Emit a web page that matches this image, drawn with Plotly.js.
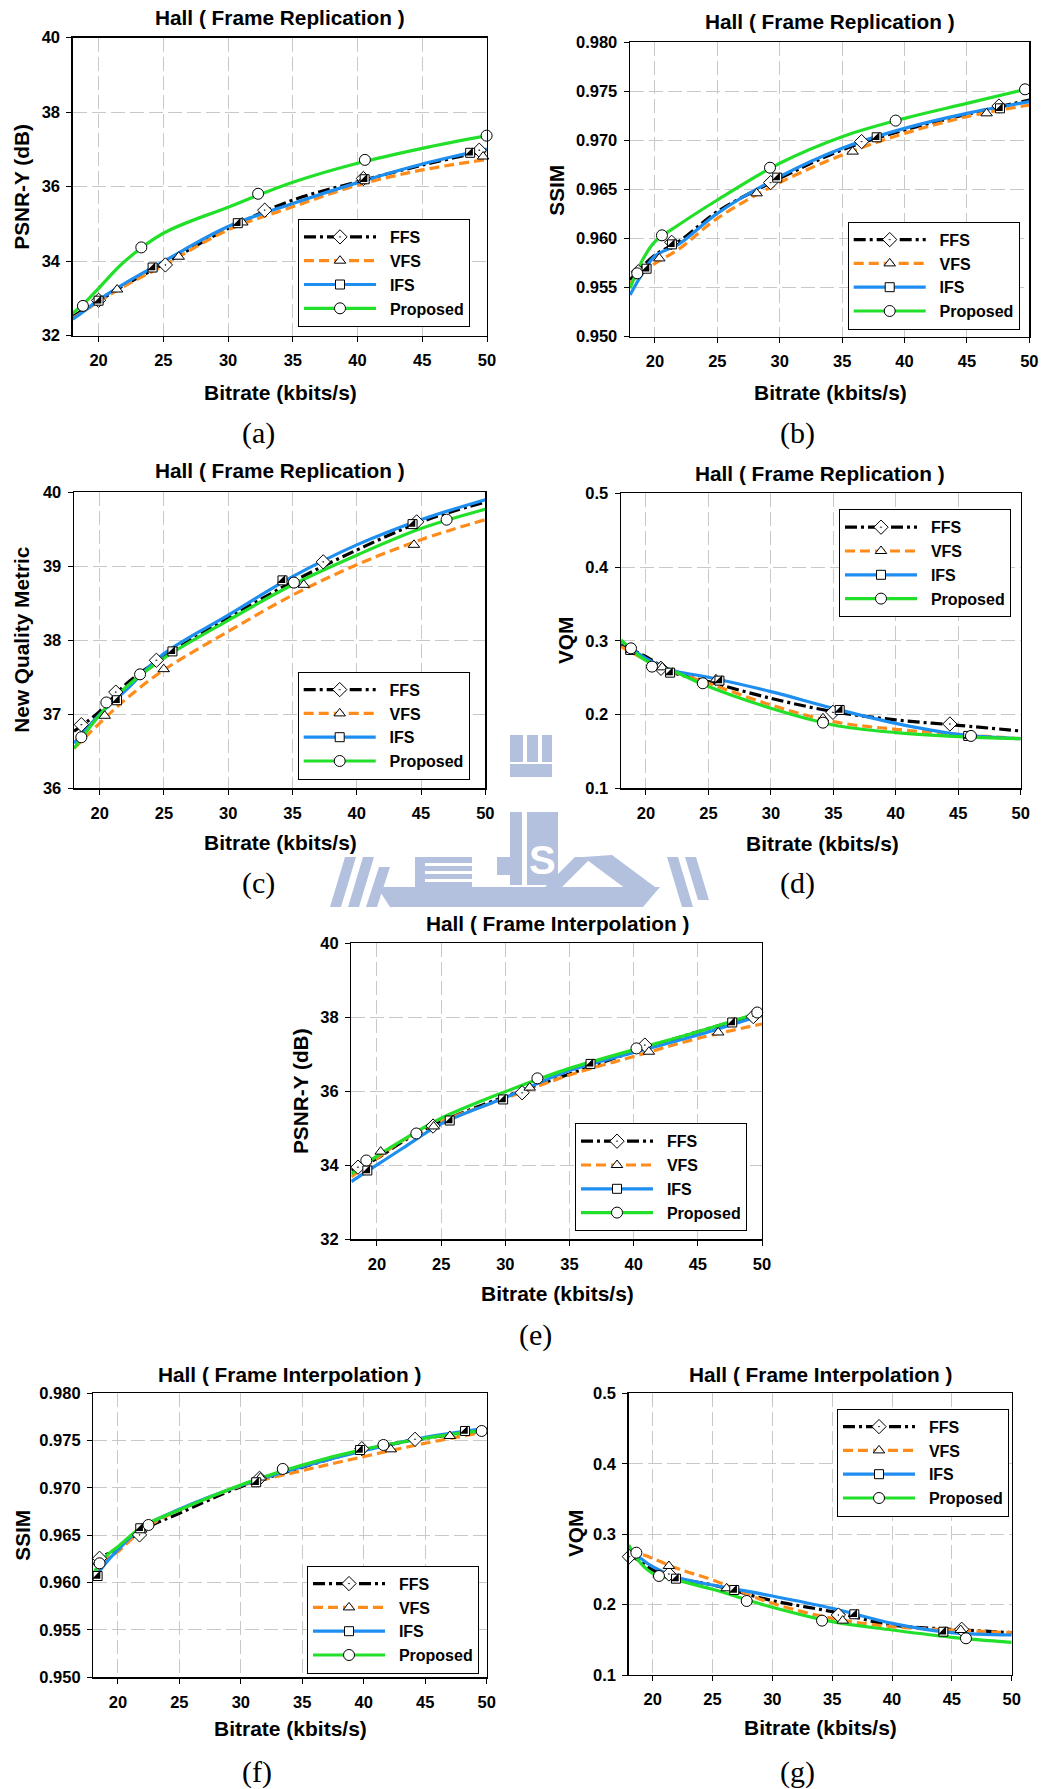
<!DOCTYPE html>
<html><head><meta charset="utf-8">
<script src="https://cdn.plot.ly/plotly-3.0.1.min.js"></script>
<style>body{margin:0;background:#fff}#chart{width:1055px;height:1789px}</style>
</head><body><div id="chart"></div>
<script>
// ---------------- DATA ----------------
const seriesNames = ['FFS', 'VFS', 'IFS', 'Proposed'];
const xTicks = [20, 25, 30, 35, 40, 45, 50];

// (a) PSNR-Y, Frame Replication
const aCurveX = [18, 19, 20, 22, 25, 30, 35, 40, 45, 50];
const aFfsCurve = [32.51, 32.73, 32.93, 33.36, 33.92, 34.88, 35.64, 36.13, 36.58, 36.97];
const aVfsCurve = [32.47, 32.69, 32.91, 33.33, 33.88, 34.84, 35.46, 36.04, 36.45, 36.73];
const aIfsCurve = [32.44, 32.69, 32.96, 33.40, 33.99, 34.93, 35.55, 36.11, 36.61, 37.01];
const aPropCurve = [32.60, 32.91, 33.27, 33.99, 34.75, 35.45, 36.12, 36.63, 37.03, 37.37];
const aFfsX = [20.0, 25.16, 32.83, 40.45, 49.4];   const aFfsY = [32.95, 33.90, 35.37, 36.22, 36.98];
const aVfsX = [21.43, 26.19, 31.1, 40.45, 49.7];   const aVfsY = [33.24, 34.12, 35.04, 36.18, 36.81];
const aIfsX = [20.0, 24.17, 30.75, 40.55, 48.7];   const aIfsY = [32.94, 33.83, 35.02, 36.20, 36.91];
const aPropX = [18.79, 23.3, 32.32, 40.57, 49.97]; const aPropY = [32.80, 34.37, 35.81, 36.72, 37.37];

// (b) SSIM, Frame Replication
const bCurveX = [18, 19, 20, 22, 25, 30, 35, 40, 45, 50];
const bFfsCurve = [0.95578, 0.95714, 0.95832, 0.95978, 0.96274, 0.96614, 0.96903, 0.97106, 0.97266, 0.97412];
const bVfsCurve = [0.95544, 0.95662, 0.95747, 0.95900, 0.96206, 0.96570, 0.96852, 0.97072, 0.97242, 0.97361];
const bIfsCurve = [0.95425, 0.95646, 0.95822, 0.95951, 0.96257, 0.96631, 0.96920, 0.97123, 0.97276, 0.97395];
const bPropCurve = [0.95493, 0.95781, 0.95968, 0.96148, 0.96393, 0.96767, 0.97038, 0.97225, 0.97378, 0.97531];
const bFfsX = [18.66, 21.34, 29.27, 36.56, 47.57];  const bFfsY = [0.95662, 0.95962, 0.96570, 0.96988, 0.97351];
const bVfsX = [20.35, 28.15, 35.84, 46.58];         const bVfsY = [0.95798, 0.96461, 0.96886, 0.97276];
const bIfsX = [19.33, 21.36, 29.8, 37.77, 47.65];   const bIfsY = [0.95693, 0.95941, 0.96621, 0.97032, 0.97327];
const bPropX = [18.58, 20.56, 29.22, 39.29, 49.66]; const bPropY = [0.95646, 0.96033, 0.96722, 0.97202, 0.97521];

// (c) New Quality Metric, Frame Replication
const cCurveX = [18, 20, 22, 25, 30, 35, 40, 45, 50];
const cFfsCurve = [36.77, 37.04, 37.40, 37.78, 38.30, 38.79, 39.22, 39.60, 39.87];
const cVfsCurve = [36.54, 36.88, 37.20, 37.60, 38.12, 38.61, 39.02, 39.36, 39.63];
const cIfsCurve = [36.61, 37.00, 37.32, 37.82, 38.34, 38.86, 39.29, 39.63, 39.90];
const cPropCurve = [36.54, 36.99, 37.36, 37.76, 38.27, 38.75, 39.15, 39.51, 39.77];
const cFfsX = [18.57, 21.25, 24.41, 37.39, 44.66]; const cFfsY = [36.86, 37.30, 37.73, 39.06, 39.60];
const cVfsX = [20.39, 24.98, 35.88, 44.45];        const cVfsY = [36.98, 37.61, 38.75, 39.29];
const cIfsX = [21.35, 25.66, 34.22, 44.34];        const cIfsY = [37.19, 37.85, 38.81, 39.57];
const cPropX = [18.57, 20.52, 23.14, 35.11, 46.99]; const cPropY = [36.69, 37.16, 37.54, 38.78, 39.63];

// (d) VQM, Frame Replication
const dCurveX = [18, 20, 22, 25, 30, 35, 40, 45, 50];
const dFfsCurve = [0.2944, 0.2785, 0.2582, 0.2446, 0.2220, 0.2040, 0.1927, 0.1854, 0.1777];
const dVfsCurve = [0.2921, 0.2740, 0.2595, 0.2424, 0.2130, 0.1904, 0.1800, 0.1732, 0.1673];
const dIfsCurve = [0.2989, 0.2763, 0.2605, 0.2505, 0.2311, 0.2085, 0.1881, 0.1732, 0.1673];
const dPropCurve = [0.3011, 0.2731, 0.2605, 0.2379, 0.2085, 0.1859, 0.1755, 0.1700, 0.1673];
const dFfsX = [21.2, 34.97, 44.33];                 const dFfsY = [0.2627, 0.2030, 0.1872];
const dVfsX = [21.3, 25.6, 34.17];                  const dVfsY = [0.2640, 0.2478, 0.1949];
const dIfsX = [18.74, 21.93, 25.88, 35.51, 45.8];   const dIfsY = [0.2876, 0.2568, 0.2460, 0.2062, 0.1710];
const dPropX = [18.8, 20.48, 24.55, 34.17, 46.02];  const dPropY = [0.2898, 0.2650, 0.2424, 0.1890, 0.1710];

// (e) PSNR-Y, Frame Interpolation
const eCurveX = [18, 20, 22, 25, 30, 35, 40, 45, 50];
const eFfsCurve = [33.87, 34.19, 34.64, 35.18, 35.86, 36.47, 37.07, 37.61, 38.11];
const eVfsCurve = [33.69, 34.19, 34.67, 35.18, 35.81, 36.44, 36.94, 37.43, 37.82];
const eIfsCurve = [33.56, 34.01, 34.46, 35.12, 35.83, 36.56, 37.05, 37.52, 38.06];
const ePropCurve = [33.77, 34.25, 34.68, 35.27, 35.99, 36.62, 37.12, 37.61, 38.15];
const eFfsX = [18.52, 24.37, 31.31, 40.87, 49.32]; const eFfsY = [33.95, 35.06, 35.96, 37.25, 38.02];
const eVfsX = [20.29, 24.42, 31.9, 41.19, 46.59];  const eVfsY = [34.37, 35.05, 36.10, 37.07, 37.59];
const eIfsX = [19.25, 25.67, 29.83, 36.64, 47.68]; const eIfsY = [33.86, 35.21, 35.78, 36.74, 37.86];
const ePropX = [19.17, 23.07, 32.5, 40.22, 49.63]; const ePropY = [34.13, 34.86, 36.35, 37.16, 38.13];

// (f) SSIM, Frame Interpolation
const fCurveX = [18, 19, 20, 22, 25, 30, 35, 40, 45, 50];
const fFfsCurve = [0.96187, 0.96292, 0.96363, 0.96556, 0.96732, 0.97014, 0.97218, 0.97401, 0.97525, 0.97606];
const fVfsCurve = [0.96081, 0.96239, 0.96327, 0.96556, 0.96768, 0.97021, 0.97183, 0.97331, 0.97472, 0.97595];
const fIfsCurve = [0.96028, 0.96204, 0.96345, 0.96585, 0.96775, 0.97025, 0.97225, 0.97394, 0.97535, 0.97630];
const fPropCurve = [0.96099, 0.96275, 0.96380, 0.96592, 0.96768, 0.97032, 0.97243, 0.97408, 0.97525, 0.97613];
const fFfsX = [18.51, 21.76, 31.52, 39.84, 44.17]; const fFfsY = [0.96257, 0.96504, 0.97102, 0.97415, 0.97514];
const fVfsX = [21.9, 31.6, 42.2, 47.0];            const fVfsY = [0.96560, 0.97110, 0.97408, 0.97549];
const fIfsX = [18.35, 21.82, 31.25, 39.70, 48.24]; const fIfsY = [0.96070, 0.96574, 0.97060, 0.97401, 0.97602];
const fPropX = [18.51, 22.49, 33.41, 41.6, 49.59]; const fPropY = [0.96204, 0.96609, 0.97201, 0.97454, 0.97602];

// (g) VQM, Frame Interpolation
const gCurveX = [18, 19, 20, 22, 25, 30, 35, 40, 45, 50];
const gFfsCurve = [0.2718, 0.2609, 0.2491, 0.2373, 0.2278, 0.2056, 0.1899, 0.1710, 0.1649, 0.1601];
const gVfsCurve = [0.2775, 0.2718, 0.2657, 0.2515, 0.2349, 0.2018, 0.1805, 0.1686, 0.1639, 0.1601];
const gIfsCurve = [0.2775, 0.2657, 0.2538, 0.2387, 0.2278, 0.2122, 0.1947, 0.1734, 0.1601, 0.1568];
const gPropCurve = [0.2846, 0.2586, 0.2444, 0.2349, 0.2217, 0.1961, 0.1757, 0.1639, 0.1535, 0.1464];
const gFfsX = [18.05, 21.36, 35.52, 45.82];        const gFfsY = [0.2680, 0.2434, 0.1852, 0.1649];
const gVfsX = [21.36, 26.18, 35.88, 45.74];        const gVfsY = [0.2548, 0.2231, 0.1772, 0.1639];
const gIfsX = [21.95, 26.82, 36.85, 44.29];        const gIfsY = [0.2368, 0.2207, 0.1862, 0.1615];
const gPropX = [18.64, 20.53, 27.86, 34.15, 46.18]; const gPropY = [0.2737, 0.2406, 0.2051, 0.1772, 0.1521];

// ---------------- LAYOUT / STYLE ----------------
const W = 1055, H = 1789;
const FONT = 'Liberation Sans, Arial, sans-serif';
const px = v => v / W, py = v => 1 - v / H;
const NB = '\u00A0\u00A0';

const styles = [
  {color: '#000000', dash: '12px,4px,3px,4px', symbol: 'diamond-dot', size: 11},
  {color: '#FF8C1A', dash: '10px,5px', symbol: 'triangle-up', size: 10},
  {color: '#1E8FF0', dash: 'solid', symbol: 'square', size: 9},
  {color: '#22E02A', dash: 'solid', symbol: 'circle', size: 11}
];

const panels = [
  {curveX: aCurveX, curves: [aFfsCurve, aVfsCurve, aIfsCurve, aPropCurve],
   mx: [aFfsX, aVfsX, aIfsX, aPropX], my: [aFfsY, aVfsY, aIfsY, aPropY],
   box: [72.7, 37.7, 487, 335.7], yr: [32, 40], dt: 2, fmt: 'd',
   title: 'Hall ( Frame Replication )', tp: [280, 17], yt: 'PSNR-Y (dB)', ytp: [21.7, 187],
   xtp: [280, 392], sub: '(a)', sp: [258, 433], lg: [298, 219]},
  {curveX: bCurveX, curves: [bFfsCurve, bVfsCurve, bIfsCurve, bPropCurve],
   mx: [bFfsX, bVfsX, bIfsX, bPropX], my: [bFfsY, bVfsY, bIfsY, bPropY],
   box: [630, 42.3, 1029.3, 336.7], yr: [0.95, 0.98], dt: 0.005, fmt: '.3f',
   title: 'Hall ( Frame Replication )', tp: [830, 22], yt: 'SSIM', ytp: [556.7, 190],
   xtp: [830, 392], sub: '(b)', sp: [797, 433], lg: [847.7, 221.7]},
  {curveX: cCurveX, curves: [cFfsCurve, cVfsCurve, cIfsCurve, cPropCurve],
   mx: [cFfsX, cVfsX, cIfsX, cPropX], my: [cFfsY, cVfsY, cIfsY, cPropY],
   box: [74, 492.3, 485.3, 788.3], yr: [36, 40], dt: 1, fmt: 'd',
   title: 'Hall ( Frame Replication )', tp: [280, 471], yt: 'New Quality Metric', ytp: [21.7, 640],
   xtp: [280, 842], sub: '(c)', sp: [258, 883], lg: [297.7, 671.7]},
  {curveX: dCurveX, curves: [dFfsCurve, dVfsCurve, dIfsCurve, dPropCurve],
   mx: [dFfsX, dVfsX, dIfsX, dPropX], my: [dFfsY, dVfsY, dIfsY, dPropY],
   box: [621, 493.3, 1020.7, 788.3], yr: [0.1, 0.5], dt: 0.1, fmt: '.1f',
   title: 'Hall ( Frame Replication )', tp: [820, 473], yt: 'VQM', ytp: [565, 641],
   xtp: [822, 843], sub: '(d)', sp: [797, 883], lg: [839, 509.3]},
  {curveX: eCurveX, curves: [eFfsCurve, eVfsCurve, eIfsCurve, ePropCurve],
   mx: [eFfsX, eVfsX, eIfsX, ePropX], my: [eFfsY, eVfsY, eIfsY, ePropY],
   box: [351.3, 943.3, 762, 1239.3], yr: [32, 40], dt: 2, fmt: 'd',
   title: 'Hall ( Frame Interpolation )', tp: [557, 923], yt: 'PSNR-Y (dB)', ytp: [300, 1091],
   xtp: [557, 1293], sub: '(e)', sp: [535, 1335], lg: [575, 1123.3]},
  {curveX: fCurveX, curves: [fFfsCurve, fVfsCurve, fIfsCurve, fPropCurve],
   mx: [fFfsX, fVfsX, fIfsX, fPropX], my: [fFfsY, fVfsY, fIfsY, fPropY],
   box: [93.3, 1393.3, 486.7, 1677.3], yr: [0.95, 0.98], dt: 0.005, fmt: '.3f',
   title: 'Hall ( Frame Interpolation )', tp: [289, 1374], yt: 'SSIM', ytp: [21.7, 1535],
   xtp: [290, 1728], sub: '(f)', sp: [257, 1772], lg: [307, 1565.7]},
  {curveX: gCurveX, curves: [gFfsCurve, gVfsCurve, gIfsCurve, gPropCurve],
   mx: [gFfsX, gVfsX, gIfsX, gPropX], my: [gFfsY, gVfsY, gIfsY, gPropY],
   box: [628.7, 1393.3, 1011.7, 1675], yr: [0.1, 0.5], dt: 0.1, fmt: '.1f',
   title: 'Hall ( Frame Interpolation )', tp: [820, 1374], yt: 'VQM', ytp: [575, 1534],
   xtp: [820, 1727], sub: '(g)', sp: [797, 1772], lg: [837, 1408.7]}
];

const traces = [];
const layout = {
  width: W, height: H, margin: {l: 0, r: 0, t: 0, b: 0},
  paper_bgcolor: '#ffffff', plot_bgcolor: '#ffffff',
  showlegend: true, hovermode: false, annotations: [], shapes: []
};

panels.forEach((p, i) => {
  const n = i + 1;
  const xa = n === 1 ? 'x' : 'x' + n, ya = n === 1 ? 'y' : 'y' + n;
  const lgName = n === 1 ? 'legend' : 'legend' + n;
  const axCommon = () => ({
    showgrid: true, gridcolor: '#c8c8c8', griddash: '14px,5px', gridwidth: 1,
    showline: true, linecolor: '#000', linewidth: 1.4, mirror: true,
    ticks: 'outside', ticklen: 5, tickcolor: '#000', tickwidth: 1,
    tickfont: {family: FONT, size: 16.5, weight: 'bold', color: '#000'},
    zeroline: false, fixedrange: true
  });
  layout['xaxis' + (n === 1 ? '' : n)] = Object.assign(axCommon(), {
    domain: [px(p.box[0]), px(p.box[2])], range: [18, 50],
    tickmode: 'array', tickvals: xTicks, anchor: ya, ticklabelstandoff: 4
  });
  layout['yaxis' + (n === 1 ? '' : n)] = Object.assign(axCommon(), {
    domain: [py(p.box[3]), py(p.box[1])], range: p.yr,
    tick0: p.yr[0], dtick: p.dt, tickformat: p.fmt, anchor: xa, ticklabelstandoff: 3
  });
  layout[lgName] = {
    x: px(p.lg[0]), y: py(p.lg[1]), xanchor: 'left', yanchor: 'top',
    bgcolor: '#fff', bordercolor: '#000', borderwidth: 1,
    font: {family: FONT, size: 16, weight: 'bold', color: '#000'},
    itemwidth: 72, tracegroupgap: 0, traceorder: 'normal'
  };

  // curves (these carry the legend entries; their own markers are hidden in the plot)
  p.curves.forEach((cy, s) => {
    const st = styles[s];
    traces.push({
      type: 'scatter', mode: 'lines+markers', x: p.curveX, y: cy,
      xaxis: xa, yaxis: ya, legend: lgName, name: NB + seriesNames[s],
      line: {color: st.color, width: 3.2, dash: st.dash, shape: 'spline', smoothing: 1},
      marker: {symbol: st.symbol, size: st.size, color: '#fff', line: {color: '#000', width: 1}},
      selectedpoints: [], unselected: {marker: {opacity: 0}},
      hoverinfo: 'skip'
    });
  });
  // data markers
  p.mx.forEach((mx, s) => {
    const st = styles[s];
    traces.push({
      type: 'scatter', mode: 'markers', x: mx, y: p.my[s],
      xaxis: xa, yaxis: ya, showlegend: false, cliponaxis: false,
      marker: {symbol: st.symbol, size: st.size, color: '#fff', line: {color: '#000', width: 1}},
      hoverinfo: 'skip'
    });
    if (s === 2) { // half-filled square: black lower-right half
      traces.push({
        type: 'scatter', mode: 'markers', x: mx, y: p.my[s],
        xaxis: xa, yaxis: ya, showlegend: false, cliponaxis: false,
        marker: {symbol: 'triangle-se', size: 9, color: '#000', line: {width: 0}},
        hoverinfo: 'skip'
      });
    }
  });

  const ann = (text, x, y, size, extra) => Object.assign({
    text: text, x: px(x), y: py(y), xref: 'paper', yref: 'paper',
    xanchor: 'center', yanchor: 'middle', showarrow: false,
    font: {family: FONT, size: size, weight: 'bold', color: '#000'}
  }, extra || {});
  layout.annotations.push(ann(p.title, p.tp[0], p.tp[1], 20.8));
  layout.annotations.push(ann('Bitrate (kbits/s)', p.xtp[0], p.xtp[1], 21));
  layout.annotations.push(ann(p.yt, p.ytp[0], p.ytp[1], 20.8, {textangle: -90}));
  layout.annotations.push(ann(p.sub, p.sp[0], p.sp[1], 30,
    {font: {family: 'Liberation Serif, Times New Roman, serif', size: 30, color: '#000'}}));
});

// faint background logo (watermark), only the parts outside plot areas
const WM = '#B3C1DF';
const wmRects = [
  [510, 735, 523, 762], [527, 735, 538, 762], [542, 735, 552, 762], [510, 764, 552, 777],
  [510, 812, 522, 885], [527, 812, 558, 885], [497, 857, 510, 875],
  [415, 857, 425, 887], [415, 857, 472, 863], [415, 866, 472, 871], [415, 874, 472, 879], [415, 882, 472, 887]
];
wmRects.forEach(r => layout.shapes.push({
  type: 'rect', xref: 'paper', yref: 'paper', layer: 'below',
  x0: px(r[0]), x1: px(r[2]), y0: py(r[3]), y1: py(r[1]),
  fillcolor: WM, line: {width: 0}
}));
const wmPolys = [
  [[377, 887], [660, 887], [643, 907], [390, 907]],
  [[583, 857], [612, 855], [655, 887], [626, 889]],
  [[575, 857], [592, 857], [562, 887], [545, 887]],
  [[330, 907], [341, 907], [356, 857], [345, 857]],
  [[348, 907], [359, 907], [374, 857], [363, 857]],
  [[366, 907], [377, 907], [390, 867], [379, 867]],
  [[667, 857], [678, 857], [693, 907], [682, 907]],
  [[685, 857], [696, 857], [709, 900], [698, 900]]
];
wmPolys.forEach(poly => layout.shapes.push({
  type: 'path', xref: 'paper', yref: 'paper', layer: 'below',
  path: 'M' + poly.map(q => px(q[0]) + ',' + py(q[1])).join('L') + 'Z',
  fillcolor: WM, line: {width: 0}
}));
layout.annotations.push({
  text: 'S', x: px(542), y: py(860), xref: 'paper', yref: 'paper', showarrow: false,
  xanchor: 'center', yanchor: 'middle',
  font: {family: FONT, size: 40, weight: 'bold', color: '#ffffff'}
});

Plotly.newPlot('chart', traces, layout, {staticPlot: true, displayModeBar: false});
</script>
</body></html>
